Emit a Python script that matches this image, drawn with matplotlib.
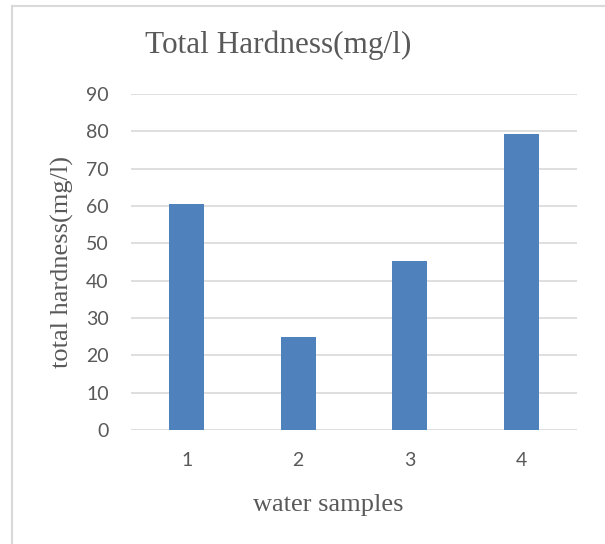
import matplotlib.pyplot as plt
from matplotlib.lines import Line2D

samples = ["1", "2", "3", "4"]
hardness = [60.6, 24.9, 45.3, 79.3]
yticks = [0, 10, 20, 30, 40, 50, 60, 70, 80, 90]

fig = plt.figure(figsize=(6.05, 5.44), dpi=100)
ax = fig.add_axes([131 / 605, 1 - 430 / 544, 446 / 605, 336 / 544])

x = list(range(len(samples)))
ax.bar(x, hardness, width=0.31, color="#4f81bd", zorder=3)

ax.set_xlim(-0.5, len(samples) - 0.5)
ax.set_ylim(0, 90)
ax.set_yticks(yticks)
ax.set_xticks(x)
ax.set_xticklabels(samples)
ax.grid(axis="y", color="#d9d9d9", linewidth=1.2, zorder=0)
for s in ax.spines.values():
    s.set_visible(False)
ax.tick_params(length=0, labelsize=14, labelcolor="#595959")
ax.tick_params(axis="y", pad=16)
ax.tick_params(axis="x", pad=16)
for lab in ax.get_xticklabels() + ax.get_yticklabels():
    lab.set_family("Lato")

fig.text(145 / 605, 1 - 45 / 544, "Total Hardness(mg/l)", family="Liberation Serif",
         fontsize=22.5, color="#595959", va="center", ha="left")
fig.text(62 / 605, 1 - 262 / 544, "total hardness(mg/l)", family="Liberation Serif",
         fontsize=19, color="#595959", va="center", ha="center", rotation=90)
fig.text(328 / 605, 1 - 505 / 544, "water samples", family="Liberation Serif",
         fontsize=19, color="#595959", va="center", ha="center")

# chart border (top and left visible)
fig.add_artist(Line2D([12 / 605, 12 / 605], [0, 1 - 6 / 544], color="#d9d9d9", linewidth=1.5))
fig.add_artist(Line2D([12 / 605, 1], [1 - 6 / 544, 1 - 6 / 544], color="#d9d9d9", linewidth=1.5))

fig.savefig("out.png", dpi=100)
